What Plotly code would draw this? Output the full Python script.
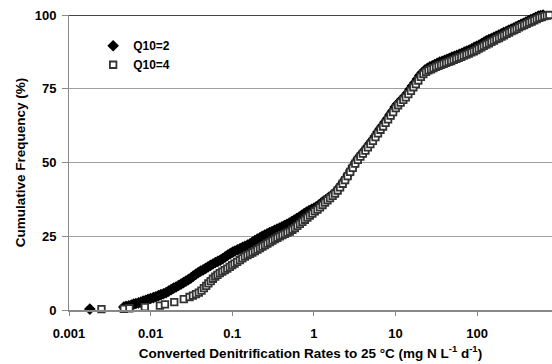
import plotly.graph_objects as go

# Q10 = 2 (black diamonds): converted rate (mg N L-1 d-1), cumulative frequency (%)
q2_rate = [0.0018, 0.0047, 0.0050, 0.0054, 0.0058, 0.0062, 0.0066, 0.0071, 0.0076, 0.0081,
           0.0087, 0.0093, 0.0100, 0.0108, 0.0116, 0.0125, 0.0134, 0.0144, 0.0155, 0.0166,
           0.0178, 0.0191, 0.0205, 0.0220, 0.0236, 0.0253, 0.0271, 0.0290, 0.0311, 0.0333,
           0.0357, 0.0383, 0.0410, 0.0440, 0.0471, 0.0505, 0.0541, 0.0580, 0.0622, 0.0667,
           0.0715, 0.0766, 0.0821, 0.0880, 0.0944, 0.1012, 0.108, 0.116, 0.125, 0.134,
           0.143, 0.154, 0.165, 0.177, 0.189, 0.203, 0.218, 0.233, 0.250, 0.268,
           0.287, 0.308, 0.330, 0.354, 0.380, 0.407, 0.436, 0.468, 0.501, 0.537,
           0.576, 0.617, 0.662, 0.710, 0.761, 0.816, 0.875, 0.938, 1.00, 1.07,
           1.15, 1.23, 1.32, 1.42, 1.52, 1.63, 1.75, 1.87, 2.01, 2.15,
           2.31, 2.47, 2.65, 2.84, 3.05, 3.27, 3.50, 3.75, 4.02, 4.31,
           4.62, 4.95, 5.31, 5.69, 6.10, 6.54, 7.01, 7.52, 8.06, 8.64,
           9.26, 9.93, 10.6, 11.4, 12.2, 13.1, 14.1, 15.1, 16.2, 17.3,
           18.6, 19.9, 21.4, 22.9, 24.6, 26.4, 28.3, 30.3, 32.5, 34.8,
           37.3, 40.0, 42.9, 46.0, 49.3, 52.8, 56.6, 60.7, 65.1, 69.8,
           74.8, 80.2, 86.0, 92.2, 98.8, 106, 114, 122, 130, 140,
           150, 161, 172, 185, 198, 212, 228, 244, 262, 281,
           301, 323, 346, 371, 398, 426, 457, 490, 525, 563,
           603, 646]
q2_freq = [0.3, 1.0, 1.2, 1.4, 1.7, 2.0, 2.2, 2.4, 2.7, 3.0,
           3.3, 3.6, 3.9, 4.2, 4.5, 4.9, 5.2, 5.5, 5.9, 6.4,
           6.9, 7.4, 7.8, 8.3, 8.8, 9.3, 9.8, 10.3, 10.8, 11.5,
           12.1, 12.7, 13.2, 13.6, 14.1, 14.6, 15.1, 15.6, 16.1, 16.5,
           16.9, 17.4, 18.0, 18.6, 19.1, 19.6, 20.0, 20.4, 20.8, 21.2,
           21.6, 22.0, 22.4, 23.0, 23.5, 24.0, 24.5, 25.0, 25.4, 25.8,
           26.2, 26.6, 27.0, 27.4, 27.8, 28.2, 28.6, 29.0, 29.5, 30.0,
           30.5, 31.0, 31.5, 32.1, 32.7, 33.2, 33.7, 34.1, 34.5, 35.0,
           35.6, 36.2, 36.9, 37.5, 38.1, 38.7, 39.4, 40.1, 41.2, 42.3,
           43.5, 44.7, 46.0, 47.4, 48.8, 50.2, 51.4, 52.5, 53.5, 54.5,
           55.6, 56.7, 57.8, 59.0, 60.3, 61.5, 62.6, 63.8, 65.0, 66.3,
           67.5, 68.8, 69.8, 70.7, 71.6, 72.5, 73.6, 74.8, 76.0, 77.0,
           78.3, 79.5, 80.5, 81.3, 81.9, 82.4, 82.8, 83.2, 83.6, 84.0,
           84.3, 84.6, 85.0, 85.3, 85.7, 86.0, 86.3, 86.7, 87.0, 87.4,
           87.8, 88.1, 88.5, 89.0, 89.4, 89.8, 90.3, 90.8, 91.2, 91.7,
           92.0, 92.4, 92.8, 93.2, 93.6, 94.0, 94.4, 94.8, 95.2, 95.6,
           96.0, 96.4, 96.8, 97.2, 97.6, 98.0, 98.4, 98.8, 99.2, 99.6,
           99.8, 100]

# Q10 = 4 (open squares)
q4_rate = [0.0025, 0.0047, 0.0055, 0.0085, 0.0130, 0.0150, 0.0195,
           0.0255, 0.0300, 0.0330, 0.0360, 0.0390, 0.0420, 0.0450, 0.0480, 0.0510,
           0.0545, 0.0580, 0.0620, 0.0660, 0.0705, 0.0755, 0.0810, 0.0870, 0.0935, 0.100,
           0.107, 0.115, 0.124, 0.133, 0.143, 0.154, 0.165, 0.177, 0.190, 0.204,
           0.219, 0.235, 0.252, 0.270, 0.290, 0.311, 0.334, 0.358, 0.384, 0.412,
           0.442, 0.474, 0.509, 0.546, 0.586, 0.629, 0.675, 0.724, 0.777, 0.834,
           0.895, 0.960, 1.03, 1.11, 1.19, 1.28, 1.37, 1.47, 1.58, 1.70,
           1.82, 1.96, 2.10, 2.26, 2.42, 2.60, 2.79, 3.00, 3.22, 3.46,
           3.72, 3.99, 4.29, 4.60, 4.94, 5.30, 5.70, 6.12, 6.57, 7.06,
           7.58, 8.14, 8.74, 9.38, 10.1, 10.8, 11.6, 12.5, 13.4, 14.4,
           15.5, 16.6, 17.8, 19.1, 20.5, 22.0, 23.7, 25.4, 27.3, 29.3,
           31.5, 33.8, 36.3, 39.0, 41.8, 44.9, 48.2, 51.8, 55.6, 59.7,
           64.1, 68.8, 73.9, 79.3, 85.2, 91.4, 98.2, 105, 113, 121,
           130, 140, 150, 161, 173, 186, 200, 214, 230, 247,
           265, 285, 306, 328, 352, 378, 406, 436, 468, 503,
           540, 580, 622, 668, 717, 770]
q4_freq = [0.3, 0.4, 0.6, 1.0, 1.5, 1.9, 2.7,
           3.7, 4.4, 4.9, 5.4, 5.9, 6.6, 7.4, 8.2, 9.0,
           9.8, 10.6, 11.3, 11.9, 12.5, 13.0, 13.5, 14.0, 14.6, 15.2,
           15.7, 16.3, 16.9, 17.5, 18.1, 18.6, 19.0, 19.5, 20.0, 20.5,
           21.0, 21.5, 22.0, 22.5, 23.0, 23.5, 24.0, 24.5, 25.0, 25.4,
           25.8, 26.2, 26.6, 27.2, 27.8, 28.5, 29.2, 29.9, 30.6, 31.3,
           32.0, 32.7, 33.4, 34.0, 34.8, 35.6, 36.4, 37.2, 37.9, 38.7,
           39.5, 40.5, 41.6, 42.8, 44.0, 45.4, 46.8, 48.2, 49.6, 50.9,
           52.0, 53.0, 54.0, 55.1, 56.2, 57.3, 58.6, 59.9, 61.1, 62.2,
           63.4, 64.6, 65.9, 67.1, 68.4, 69.4, 70.3, 71.2, 72.1, 73.2,
           74.3, 75.5, 76.6, 77.8, 79.0, 80.0, 80.7, 81.2, 81.6, 82.0,
           82.4, 82.8, 83.1, 83.4, 83.8, 84.1, 84.4, 84.8, 85.1, 85.5,
           85.8, 86.2, 86.6, 86.9, 87.3, 87.7, 88.1, 88.6, 89.0, 89.5,
           90.0, 90.4, 90.9, 91.3, 91.8, 92.2, 92.7, 93.1, 93.6, 94.0,
           94.5, 94.9, 95.3, 95.8, 96.2, 96.6, 97.0, 97.4, 97.8, 98.2,
           98.6, 99.0, 99.3, 99.6, 99.8, 100]

x_tickvals = [0.001, 0.01, 0.1, 1, 10, 100]
x_ticktext = ["0.001", "0.01", "0.1", "1", "10", "100"]
y_tickvals = [0, 25, 50, 75, 100]

FONT = "Liberation Sans, Arial, sans-serif"

fig = go.Figure()
fig.add_trace(go.Scatter(
    x=q2_rate, y=q2_freq, mode="markers", name="<b>Q10=2</b>",
    marker=dict(symbol="diamond", size=9, color="black", line=dict(width=0)),
    cliponaxis=False,
))
fig.add_trace(go.Scatter(
    x=q4_rate, y=q4_freq, mode="markers", name="<b>Q10=4</b>",
    marker=dict(symbol="square", size=6.5, color="white", line=dict(width=1.8, color="#333333")),
    cliponaxis=False,
))

fig.update_layout(
    width=552, height=364,
    margin=dict(l=69, r=0, t=15, b=54),
    paper_bgcolor="white", plot_bgcolor="white",
    font=dict(family=FONT, color="black", size=12),
    showlegend=True,
    legend=dict(x=0.05, y=0.945, xanchor="left", yanchor="top",
                bgcolor="rgba(0,0,0,0)", borderwidth=0,
                font=dict(family=FONT, size=12, color="black"),
                tracegroupgap=0),
)
fig.update_xaxes(
    type="log", range=[-3, 2.919],
    tickvals=x_tickvals, ticktext=["<b>%s</b>" % t for t in x_ticktext],
    tickfont=dict(size=13, family=FONT),
    ticks="outside", ticklen=4, tickcolor="#888888", tickwidth=1,
    ticklabelstandoff=6,
    showgrid=False, zeroline=False,
    showline=True, linecolor="#888888", linewidth=2,
    title=dict(text="<b>Converted Denitrification Rates to 25 °C (mg N L<sup>-1</sup> d<sup>-1</sup>)</b>",
               font=dict(size=13.5, family=FONT), standoff=9),
)
fig.update_yaxes(
    range=[0, 100], tickvals=y_tickvals,
    ticktext=["<b>%d</b>" % v for v in y_tickvals],
    tickfont=dict(size=13, family=FONT),
    ticks="outside", ticklen=6, tickcolor="#888888", tickwidth=1,
    ticklabelstandoff=3,
    showgrid=True, gridcolor="#a0a0a0", gridwidth=1,
    zeroline=False, showline=True, linecolor="#888888", linewidth=1,
    title=dict(text="<b>Cumulative Frequency (%)</b>", font=dict(size=13.5, family=FONT), standoff=5),
)
# darker top border at 100 %
fig.add_shape(type="line", xref="paper", yref="y", x0=0, x1=1, y0=100, y1=100,
              line=dict(color="#444444", width=2), layer="below")

fig.write_html("out.html", config={"displayModeBar": False},
               post_script="document.body.style.margin='0';document.body.style.overflow='hidden';")
